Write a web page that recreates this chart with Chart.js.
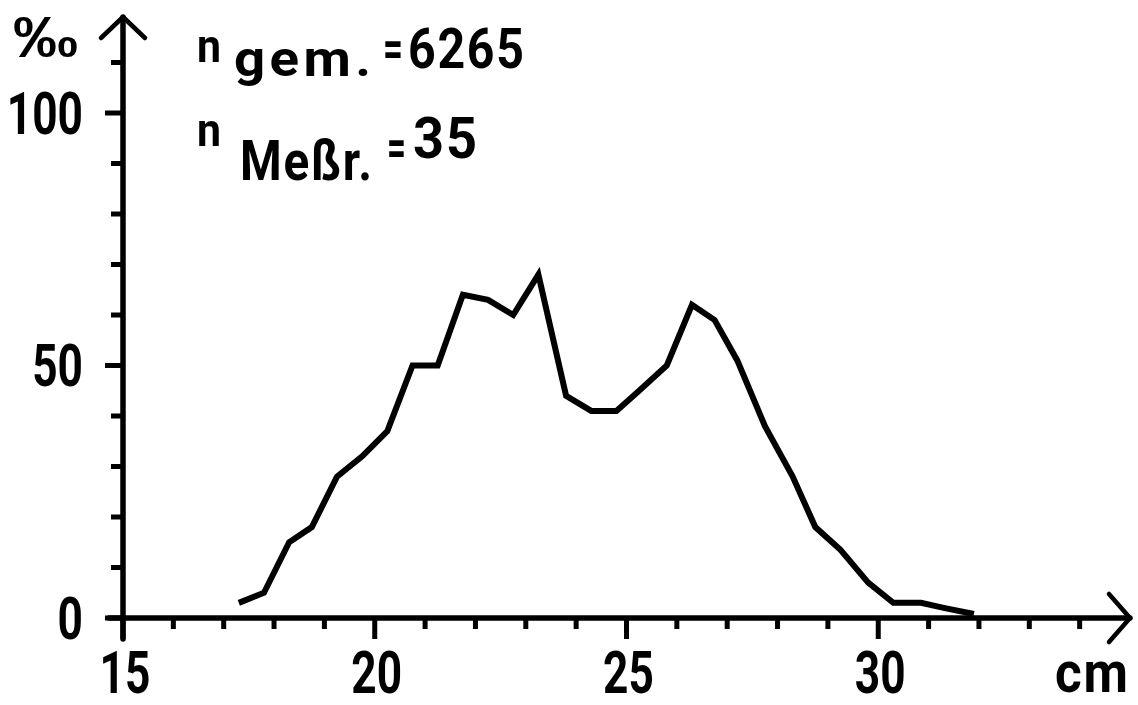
<!DOCTYPE html>
<html>
<head>
<meta charset="utf-8">
<script src="https://cdn.jsdelivr.net/npm/chart.js@4.4.1/dist/chart.umd.min.js"></script>
<style>
html, body { margin: 0; padding: 0; background: #fff; }
</style>
</head>
<body>
<canvas id="chart" width="1138" height="705"></canvas>
<script>
// body length classes (cm) and share per mille
const lengthCm = [17.3, 17.8, 18.3, 18.75, 19.25, 19.75, 20.25, 20.75, 21.25, 21.75,
                  22.25, 22.75, 23.25, 23.8, 24.3, 24.8, 25.25, 25.8, 26.3, 26.75,
                  27.2, 27.75, 28.3, 28.75, 29.25, 29.8, 30.3, 30.85, 31.3, 31.9];
const perMille = [3, 5, 15, 18, 28, 32, 37, 50, 50, 64,
                  63, 60, 68, 44, 41, 41, 45, 50, 62, 59,
                  51, 38, 28, 18, 13.5, 7, 3, 3, 2, 0.8];

const xTickLabels = [15, 20, 25, 30];
const yTickLabels = [0, 50, 100];
const xTickMarks = [15, 16, 17, 18, 19, 20, 21, 22, 23, 24, 25, 26, 27, 28, 29, 30, 31, 32, 33, 34];
const yTickMarks = [0, 10, 20, 30, 40, 50, 60, 70, 80, 90, 100, 110];

const xUnit = 'cm';
const yUnit = '‰';
const nTotalLabel = ['n', 'gem.', '=', '6265'];
const nSamplesLabel = ['n', 'Meßr.', '=', '35'];

const face = "Roboto, 'Liberation Sans', 'DejaVu Sans', sans-serif";
const symbolFace = "'Liberation Sans', 'DejaVu Sans', sans-serif";
const ink = '#000';
const squeeze = 0.75;

// draw text scaled horizontally so it fills a given width
function fitText(ctx, text, left, baseline, width, size, spacing, family) {
    ctx.font = 'bold ' + size + 'px ' + (family || face);
    ctx.letterSpacing = (spacing || 0) + 'px';
    const w = ctx.measureText(text).width - (spacing || 0);
    ctx.save();
    ctx.translate(left, baseline);
    ctx.scale(width / w, 1);
    ctx.fillText(text, 0, 0);
    ctx.restore();
    ctx.letterSpacing = '0px';
}

function tickText(ctx, text, anchorX, baseline, align) {
    ctx.font = 'bold 59px ' + face;
    const w = ctx.measureText(text).width * squeeze;
    const left = align === 'right' ? anchorX - w : anchorX - w / 2;
    ctx.save();
    ctx.translate(left, baseline);
    ctx.scale(squeeze, 1);
    ctx.fillText(text, 0, 0);
    ctx.restore();
}

const axesPlugin = {
    id: 'handAxes',
    afterDraw(chart) {
        const ctx = chart.ctx;
        const xs = chart.scales.x;
        const ys = chart.scales.y;
        const x0 = xs.getPixelForValue(15);
        const y0 = ys.getPixelForValue(0);
        const xEnd = xs.getPixelForValue(xs.max);
        const yEnd = ys.getPixelForValue(ys.max);

        ctx.save();
        ctx.strokeStyle = ink;
        ctx.fillStyle = ink;
        ctx.lineCap = 'round';
        ctx.lineJoin = 'round';

        // axis lines
        ctx.lineWidth = 5.5;
        ctx.beginPath();
        ctx.moveTo(x0 - 14, y0);
        ctx.lineTo(xEnd, y0);
        ctx.moveTo(x0, y0 + 21);
        ctx.lineTo(x0, yEnd);
        ctx.stroke();

        // open arrow heads
        ctx.lineWidth = 4.5;
        ctx.beginPath();
        ctx.moveTo(xEnd - 21, y0 - 24);
        ctx.lineTo(xEnd, y0);
        ctx.lineTo(xEnd - 21, y0 + 24);
        ctx.moveTo(x0 - 22, yEnd + 21);
        ctx.lineTo(x0, yEnd);
        ctx.lineTo(x0 + 22, yEnd + 21);
        ctx.stroke();

        // tick marks
        ctx.lineWidth = 5;
        ctx.lineCap = 'butt';
        ctx.beginPath();
        xTickMarks.forEach(v => {
            const px = xs.getPixelForValue(v);
            const len = xTickLabels.includes(v) ? 21 : 11;
            ctx.moveTo(px, y0);
            ctx.lineTo(px, y0 + len);
        });
        yTickMarks.forEach(v => {
            const py = ys.getPixelForValue(v);
            const len = yTickLabels.includes(v) ? 18 : 12;
            ctx.moveTo(x0, py);
            ctx.lineTo(x0 - len, py);
        });
        ctx.stroke();

        // tick labels
        ctx.textBaseline = 'alphabetic';
        xTickLabels.forEach(v => {
            tickText(ctx, String(v), xs.getPixelForValue(v) + 2, 693, 'center');
        });
        yTickLabels.forEach(v => {
            tickText(ctx, String(v), 83, ys.getPixelForValue(v) + 21, 'right');
        });

        // units and counts
        fitText(ctx, yUnit, 13, 57, 65, 58, 0, symbolFace);
        fitText(ctx, xUnit, 1055, 692, 73, 57, 2);

        fitText(ctx, nTotalLabel[0], 197, 62, 24, 46);
        fitText(ctx, nTotalLabel[1], 234, 76, 137, 50, 4);
        fitText(ctx, nTotalLabel[2], 383, 66, 20, 52);
        fitText(ctx, nTotalLabel[3], 408, 68, 116, 56, 2);

        fitText(ctx, nSamplesLabel[0], 197, 146, 24, 46);
        fitText(ctx, nSamplesLabel[1], 240, 180, 132, 56, 2);
        fitText(ctx, nSamplesLabel[2], 387, 165, 19, 52);
        fitText(ctx, nSamplesLabel[3], 413, 158, 64, 57, 2);
        ctx.restore();
    }
};

new Chart(document.getElementById('chart'), {
    type: 'scatter',
    data: {
        datasets: [{
            data: lengthCm.map((x, i) => ({ x: x, y: perMille[i] })),
            showLine: true,
            borderColor: ink,
            borderWidth: 6,
            borderJoinStyle: 'miter',
            borderCapStyle: 'butt',
            pointRadius: 0,
            tension: 0
        }]
    },
    options: {
        responsive: false,
        devicePixelRatio: 1,
        animation: false,
        layout: { padding: { top: 17, right: 8, left: 123, bottom: 87 } },
        plugins: { legend: { display: false }, tooltip: { enabled: false } },
        scales: {
            x: { type: 'linear', min: 15, max: 35, display: false },
            y: { type: 'linear', min: 0, max: 119, display: false }
        }
    },
    plugins: [axesPlugin]
});
</script>
</body>
</html>
